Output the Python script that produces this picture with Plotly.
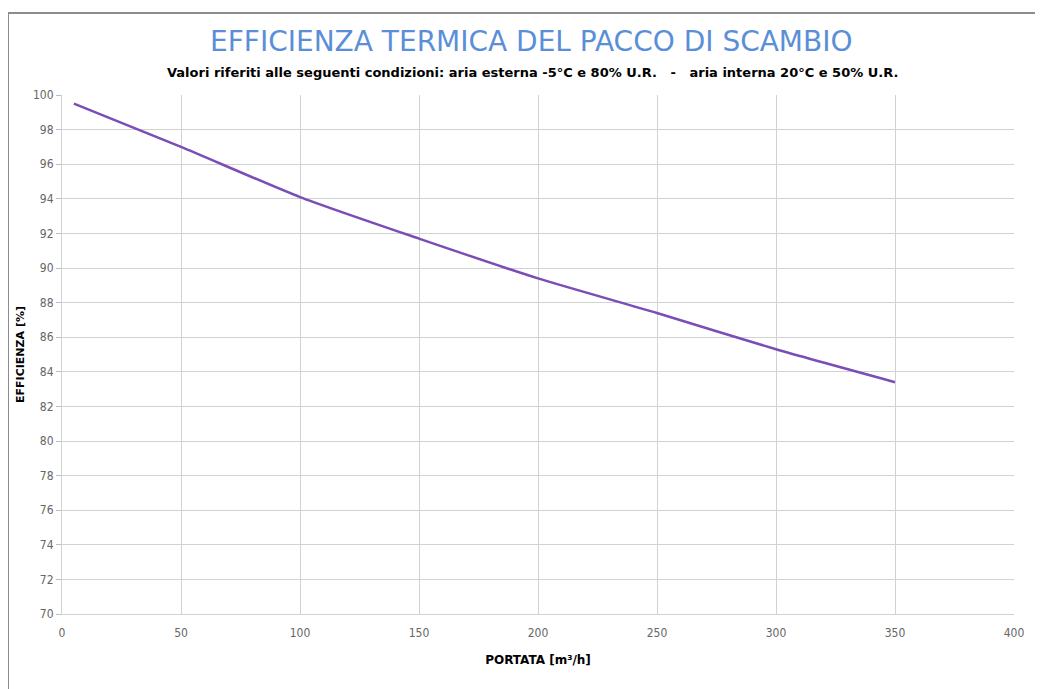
import plotly.graph_objects as go

portata = [5, 50, 100, 150, 200, 250, 300, 350]
efficienza = [99.5, 97.0, 94.1, 91.7, 89.4, 87.4, 85.3, 83.4]

x_ticks = [0, 50, 100, 150, 200, 250, 300, 350, 400]
y_ticks = list(range(70, 101, 2))

title_text = "EFFICIENZA TERMICA DEL PACCO DI SCAMBIO"
subtitle_text = ("Valori riferiti alle seguenti condizioni: aria esterna -5°C e 80% U.R."
                 "  \u00a0-\u00a0  aria interna 20°C e 50% U.R.")

# plot area in figure pixels
L, R, T, B = 54, 1006, 87, 606
W, H = 1043, 689

def px(xp):
    return (xp - L) / (R - L)

def py(yp):
    return (B - yp) / (B - T)

fig = go.Figure()
fig.add_trace(go.Scatter(
    x=portata, y=efficienza, mode="lines",
    line=dict(color="#7b4db6", width=2.5, shape="spline", smoothing=0.6),
    showlegend=False,
))

fig.update_layout(
    width=W, height=H,
    paper_bgcolor="white", plot_bgcolor="white",
    margin=dict(l=L, r=W - R, t=T, b=H - B, autoexpand=False),
    font=dict(family="DejaVu Sans", color="black"),
)

fig.update_xaxes(
    range=[0, 400], tickvals=x_ticks, ticktext=[str(v) for v in x_ticks],
    showgrid=True, gridcolor="#d2d2d2", gridwidth=1,
    showline=True, linecolor="#d2d2d2", linewidth=1, mirror=False,
    zeroline=False, ticks="outside", ticklen=8, tickcolor="rgba(0,0,0,0)",
    automargin=False,
    tickfont=dict(family="DejaVu Sans Condensed", size=12, color="#666666"),
    title=dict(text="<b>PORTATA [m³/h]</b>", font=dict(size=12, color="black"), standoff=16),
)
fig.update_yaxes(
    range=[70, 100], tickvals=y_ticks, ticktext=[str(v) for v in y_ticks],
    showgrid=True, gridcolor="#d2d2d2", gridwidth=1,
    showline=True, linecolor="#d2d2d2", linewidth=1,
    zeroline=False, ticks="outside", ticklen=5, tickcolor="#bdbdbd", automargin=False,
    tickfont=dict(family="DejaVu Sans Condensed", size=12, color="#666666"),
    title=dict(text="<b>EFFICIENZA [%]</b>", font=dict(size=11, color="black"), standoff=6),
)

fig.add_annotation(
    text=title_text, xref="paper", yref="paper",
    x=px(523), y=py(34), xanchor="center", yanchor="middle",
    showarrow=False, font=dict(family="DejaVu Sans", size=28, color="#5a8fd8"),
)
fig.add_annotation(
    text="<b>" + subtitle_text + "</b>", xref="paper", yref="paper",
    x=px(524), y=py(64), xanchor="center", yanchor="middle",
    showarrow=False, font=dict(family="DejaVu Sans", size=13, color="black"),
)

# outer frame
fig.add_shape(
    type="rect", xref="paper", yref="paper",
    x0=px(0), x1=px(W + 10),
    y0=py(H + 10), y1=py(5),
    line=dict(color="#8c8c8c", width=2), fillcolor="rgba(0,0,0,0)", layer="below",
)

fig.write_html("out.html")
